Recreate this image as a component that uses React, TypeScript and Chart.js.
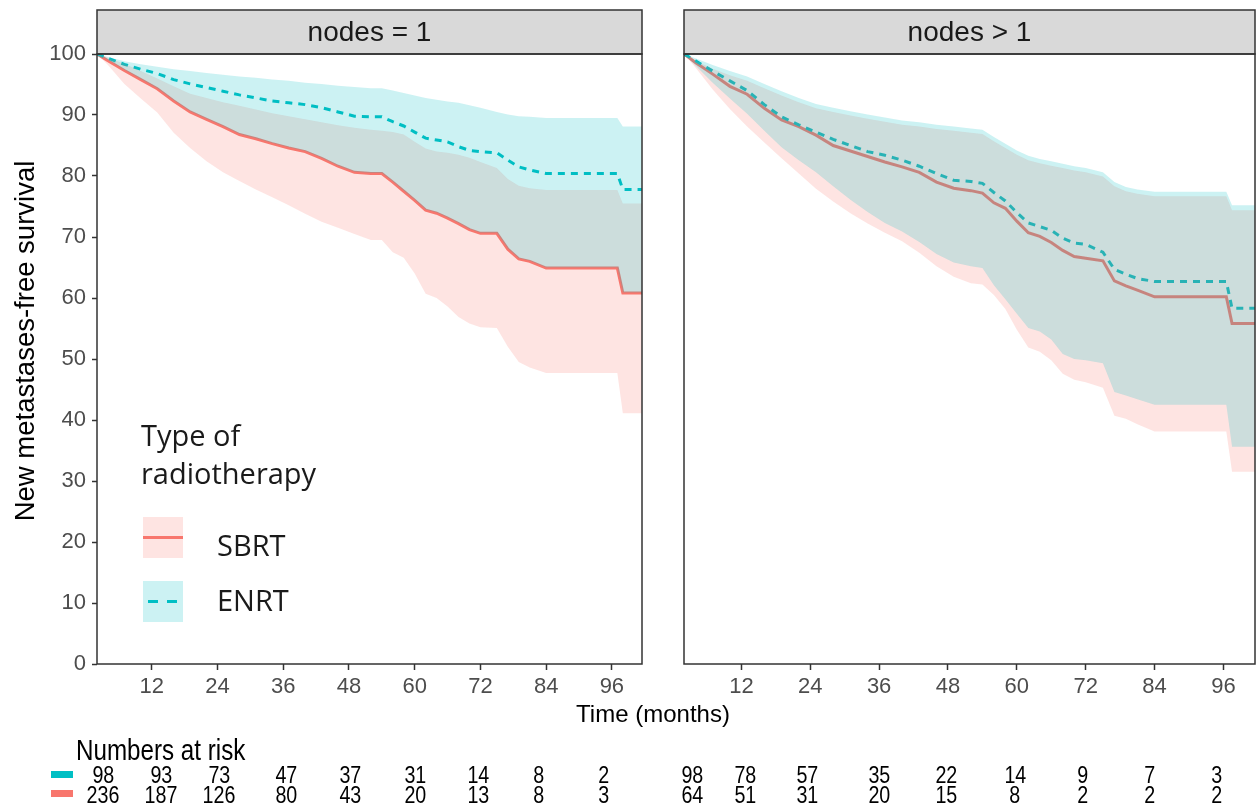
import React, { useEffect, useRef } from "react";
import { Chart, registerables } from "chart.js";

Chart.register(...registerables);

const FONT = '"Liberation Sans", Arial, Helvetica, sans-serif';
const LEGEND_FONT = '"Open Sans", "Liberation Sans", sans-serif';
const SBRT_COLOR = "#F8766D";
const ENRT_COLOR = "#00BFC4";
const SBRT_FILL = "rgba(248,118,109,0.2)";
const ENRT_FILL = "rgba(0,191,196,0.2)";

// ---------- data ----------
const xTicks = [12, 24, 36, 48, 60, 72, 84, 96];
const yTicks = [0, 10, 20, 30, 40, 50, 60, 70, 80, 90, 100];
const panelLabels = ["nodes = 1", "nodes > 1"];
const groupNames = ["SBRT", "ENRT"];

// left panel: nodes = 1
const timesLeft = [2, 4, 7, 10, 13, 16, 19, 22, 25, 28, 31, 34, 37, 40, 43, 46, 49, 52, 54, 56, 58, 60, 62, 64, 66, 68, 70, 72, 75, 77, 79, 81, 84, 97, 98, 101.5];
const sbrtEstLeft = [100, 98.9, 97.3, 95.8, 94.3, 92.3, 90.5, 89.3, 88.1, 86.8, 86.1, 85.3, 84.6, 84.0, 82.9, 81.6, 80.6, 80.4, 80.4, 79.0, 77.5, 76.0, 74.4, 73.9, 73.1, 72.2, 71.2, 70.6, 70.6, 68.0, 66.4, 66.0, 64.9, 64.9, 60.8, 60.8];
const sbrtLowerLeft = [100, 98.2, 95.1, 92.7, 90.4, 87.1, 84.6, 82.4, 80.6, 79.2, 77.8, 76.5, 75.2, 73.8, 72.5, 71.5, 70.5, 69.5, 69.5, 67.5, 66.6, 64.0, 60.7, 60.0, 58.6, 56.9, 55.8, 55.2, 55.1, 52.0, 49.5, 48.6, 47.7, 47.7, 41.1, 41.1];
const sbrtUpperLeft = [100, 99.4, 98.4, 97.2, 96.0, 94.7, 93.5, 92.8, 92.1, 91.5, 90.9, 90.3, 89.8, 89.3, 88.8, 88.3, 87.9, 87.6, 87.4, 87.2, 86.8, 85.6, 84.5, 84.0, 83.8, 83.5, 83.0, 82.3, 81.3, 79.5, 78.4, 78.0, 77.7, 77.7, 75.5, 75.5];
const enrtEstLeft = [100, 99.3, 98.3, 97.5, 96.8, 95.8, 95.1, 94.5, 93.9, 93.3, 92.8, 92.3, 92.0, 91.7, 91.2, 90.5, 89.8, 89.7, 89.7, 88.9, 88.2, 87.2, 86.2, 85.9, 85.6, 84.8, 84.2, 84.0, 83.8, 82.6, 81.5, 81.0, 80.4, 80.4, 77.8, 77.8];
const enrtUpperLeft = [100, 99.5, 98.8, 98.3, 97.9, 97.5, 97.2, 96.9, 96.6, 96.3, 96.1, 95.8, 95.6, 95.3, 95.1, 94.8, 94.6, 94.4, 94.4, 94.0, 93.6, 93.2, 92.8, 92.5, 92.2, 92.0, 91.6, 91.2, 90.5, 90.1, 89.8, 89.7, 89.5, 89.5, 88.1, 88.1];
const enrtLowerLeft = [100, 99.0, 97.4, 95.9, 94.4, 92.4, 90.6, 89.4, 88.2, 86.9, 86.2, 85.4, 84.7, 84.1, 83.0, 81.7, 80.7, 80.5, 80.5, 79.1, 77.6, 76.1, 74.5, 74.0, 73.2, 72.3, 71.3, 70.7, 70.7, 68.1, 66.5, 66.1, 65.0, 65.0, 60.9, 60.9];

// right panel: nodes > 1
const timesRight = [2, 4, 7, 10, 13, 16, 19, 22, 25, 28, 31, 34, 37, 40, 43, 46, 49, 52, 54, 56, 58, 60, 62, 64, 66, 68, 70, 72, 75, 77, 79, 81, 84, 96.5, 97.5, 101.5];
const sbrtEstRight = [100, 98.6, 96.7, 94.7, 93.4, 91.1, 89.2, 88.1, 86.7, 85.0, 84.1, 83.2, 82.3, 81.5, 80.6, 79.0, 78.0, 77.6, 77.2, 75.6, 74.7, 72.6, 70.7, 70.1, 69.1, 67.8, 66.8, 66.5, 66.1, 62.8, 62.0, 61.3, 60.2, 60.2, 55.8, 55.8];
const sbrtLowerRight = [100, 97.8, 94.2, 91.0, 88.1, 85.5, 82.9, 80.4, 77.9, 75.8, 73.9, 72.2, 70.7, 69.3, 67.4, 65.2, 63.5, 62.4, 62.2, 60.5, 58.2, 54.8, 51.9, 51.2, 49.8, 47.6, 46.6, 46.2, 45.3, 40.7, 40.2, 39.3, 38.1, 38.1, 31.5, 31.5];
const sbrtUpperRight = [100, 98.9, 97.6, 96.5, 95.6, 94.4, 93.2, 92.1, 91.1, 90.5, 89.9, 89.4, 88.9, 88.4, 88.1, 87.7, 87.4, 87.1, 86.9, 85.7, 84.6, 83.5, 82.6, 82.1, 81.7, 81.3, 80.9, 80.6, 79.9, 78.3, 77.5, 77.1, 76.7, 76.7, 74.4, 74.4];
const enrtEstRight = [100, 98.9, 97.2, 95.6, 94.0, 91.7, 89.7, 88.4, 87.2, 86.0, 85.0, 84.0, 83.4, 82.6, 81.6, 80.4, 79.3, 79.1, 78.8, 77.3, 75.9, 74.0, 72.3, 71.7, 71.1, 69.8, 69.0, 68.8, 67.5, 64.7, 63.9, 63.2, 62.7, 62.7, 58.3, 58.3];
const enrtUpperRight = [100, 99.3, 98.2, 97.2, 96.3, 95.1, 93.9, 92.8, 91.8, 91.2, 90.6, 90.1, 89.6, 89.1, 88.8, 88.4, 88.1, 87.8, 87.6, 86.4, 85.3, 84.2, 83.3, 82.8, 82.4, 82.0, 81.6, 81.3, 80.6, 79.0, 78.2, 77.8, 77.4, 77.4, 75.2, 75.2];
const enrtLowerRight = [100, 98.1, 95.3, 92.7, 90.2, 87.4, 84.7, 82.6, 80.6, 78.3, 76.1, 74.1, 72.3, 70.9, 69.2, 67.2, 65.8, 65.2, 64.9, 62.1, 59.8, 57.4, 55.1, 54.5, 53.2, 50.8, 50.0, 49.8, 49.3, 44.6, 44.0, 43.4, 42.5, 42.5, 35.6, 35.6];

// numbers at risk
const riskEnrtLeft = [98, 93, 73, 47, 37, 31, 14, 8, 2];
const riskSbrtLeft = [236, 187, 126, 80, 43, 20, 13, 8, 3];
const riskEnrtRight = [98, 78, 57, 35, 22, 14, 9, 7, 3];
const riskSbrtRight = [64, 51, 31, 20, 15, 8, 2, 2, 2];

// ---------- helpers ----------
function xy(t: number[], v: number[]) {
  return t.map((x, i) => ({ x, y: v[i] }));
}

function buildDatasets(t: number[], s: any) {
  const band = { borderWidth: 0, borderColor: "transparent", pointRadius: 0, tension: 0 };
  return [
    { ...band, label: "ENRT upper", data: xy(t, s.enU), fill: "+1", backgroundColor: ENRT_FILL, order: 0 },
    { ...band, label: "ENRT lower", data: xy(t, s.enL), fill: false, order: 0 },
    { ...band, label: "SBRT upper", data: xy(t, s.sbU), fill: "+1", backgroundColor: SBRT_FILL, order: 1 },
    { ...band, label: "SBRT lower", data: xy(t, s.sbL), fill: false, order: 1 },
    { label: groupNames[1], data: xy(t, s.enE), borderColor: ENRT_COLOR, borderWidth: 3, borderDash: [7, 6], pointRadius: 0, fill: false, tension: 0, order: 2 },
    { label: groupNames[0], data: xy(t, s.sbE), borderColor: SBRT_COLOR, borderWidth: 3, pointRadius: 0, fill: false, tension: 0, order: 3 },
  ];
}

const framePlugin = {
  id: "panelFrame",
  afterDraw(chart: any, _args: any, opts: any) {
    const { ctx, chartArea: a } = chart;
    const stripTop = 10;
    ctx.save();
    ctx.fillStyle = "#d9d9d9";
    ctx.fillRect(a.left, stripTop, a.right - a.left, a.top - stripTop);
    ctx.strokeStyle = "#333333";
    ctx.lineWidth = 1.5;
    ctx.strokeRect(a.left, stripTop, a.right - a.left, a.top - stripTop);
    ctx.strokeRect(a.left, a.top, a.right - a.left, a.bottom - a.top);
    ctx.fillStyle = "#1a1a1a";
    ctx.font = `28px ${FONT}`;
    ctx.textAlign = "center";
    ctx.textBaseline = "middle";
    ctx.fillText(opts.label || "", (a.left + a.right) / 2, (stripTop + a.top) / 2 + 1);
    ctx.restore();
  },
};

function makeConfig(t: number[], s: any, label: string, showY: boolean, padding: any): any {
  return {
    type: "line",
    data: { datasets: buildDatasets(t, s) },
    plugins: [framePlugin],
    options: {
      animation: false,
      responsive: false,
      events: [],
      layout: { padding },
      plugins: {
        legend: { display: false },
        tooltip: { enabled: false },
        panelFrame: { label },
      },
      scales: {
        x: {
          type: "linear",
          min: 2,
          max: 101.5,
          afterBuildTicks: (sc: any) => {
            sc.ticks = xTicks.map((v) => ({ value: v }));
          },
          afterFit: (sc: any) => {
            sc.height = 76;
          },
          ticks: { color: "#4d4d4d", font: { size: 22, family: FONT }, padding: 4, maxRotation: 0, autoSkip: false },
          grid: { drawOnChartArea: false, drawTicks: true, tickLength: 6, tickColor: "#333333", tickWidth: 1.5 },
          border: { display: false },
        },
        y: {
          type: "linear",
          display: showY,
          min: 0,
          max: 100,
          afterBuildTicks: (sc: any) => {
            sc.ticks = yTicks.map((v) => ({ value: v }));
          },
          afterFit: (sc: any) => {
            sc.width = showY ? 97 : 0;
          },
          ticks: { color: "#4d4d4d", font: { size: 22, family: FONT }, padding: 6 },
          grid: { drawOnChartArea: false, drawTicks: true, tickLength: 5, tickColor: "#333333", tickWidth: 1.5 },
          border: { display: false },
          title: { display: false },
        },
      },
    },
  };
}

export default function App() {
  const leftRef = useRef<HTMLCanvasElement>(null);
  const rightRef = useRef<HTMLCanvasElement>(null);

  useEffect(() => {
    const left = new Chart(
      leftRef.current as HTMLCanvasElement,
      makeConfig(
        timesLeft,
        { sbE: sbrtEstLeft, sbL: sbrtLowerLeft, sbU: sbrtUpperLeft, enE: enrtEstLeft, enU: enrtUpperLeft, enL: enrtLowerLeft },
        panelLabels[0],
        true,
        { left: 0, right: 10, top: 54, bottom: 0 }
      )
    );
    const right = new Chart(
      rightRef.current as HTMLCanvasElement,
      makeConfig(
        timesRight,
        { sbE: sbrtEstRight, sbL: sbrtLowerRight, sbU: sbrtUpperRight, enE: enrtEstRight, enU: enrtUpperRight, enL: enrtLowerRight },
        panelLabels[1],
        false,
        { left: 32, right: 4, top: 54, bottom: 0 }
      )
    );
    return () => {
      left.destroy();
      right.destroy();
    };
  }, []);

  const leftRiskX = [103, 161, 219, 286, 350, 415, 478, 539, 604];
  const rightRiskX = [692, 745, 807, 879, 946, 1015, 1083, 1150, 1217];

  const riskCell = (v: number, x: number, cy: number, key: string) => (
    <div
      key={key}
      style={{
        position: "absolute",
        left: x - 30,
        top: cy - 12,
        width: 60,
        textAlign: "center",
        fontFamily: FONT,
        fontSize: 24,
        lineHeight: "24px",
        color: "#000",
      }}
    >
      <span style={{ display: "inline-block", transform: "scaleX(0.82)" }}>{v}</span>
    </div>
  );

  const legendText: React.CSSProperties = {
    position: "absolute",
    fontFamily: LEGEND_FONT,
    fontSize: 29,
    lineHeight: "38px",
    color: "#1a1a1a",
    whiteSpace: "nowrap",
  };

  return (
    <div style={{ position: "fixed", left: 0, top: 0, width: 1259, height: 807, background: "#fff", overflow: "hidden" }}>
      <canvas ref={leftRef} width={652} height={740} style={{ position: "absolute", left: 0, top: 0 }} />
      <canvas ref={rightRef} width={607} height={740} style={{ position: "absolute", left: 652, top: 0 }} />

      {/* y-axis title */}
      <div
        style={{
          position: "absolute",
          left: 25 - 250,
          top: 341 - 16,
          width: 500,
          height: 32,
          lineHeight: "32px",
          textAlign: "center",
          fontFamily: FONT,
          fontSize: 27.5,
          color: "#000",
          transform: "rotate(-90deg)",
          transformOrigin: "center center",
          whiteSpace: "nowrap",
        }}
      >
        New metastases-free survival
      </div>

      {/* x-axis title */}
      <div style={{ position: "absolute", left: 453, width: 400, top: 714 - 14, lineHeight: "28px", textAlign: "center", fontFamily: FONT, fontSize: 24, color: "#000" }}>
        Time (months)
      </div>

      {/* legend inside left panel */}
      <div style={{ ...legendText, left: 141, top: 416 }}>
        Type of
        <br />
        radiotherapy
      </div>
      <div style={{ position: "absolute", left: 143, top: 517, width: 40, height: 41, background: SBRT_FILL }}>
        <div style={{ position: "absolute", left: 0, top: 19, width: 40, height: 3, background: SBRT_COLOR }} />
      </div>
      <div style={{ position: "absolute", left: 143, top: 581, width: 40, height: 41, background: ENRT_FILL }}>
        <div style={{ position: "absolute", left: 5, top: 18.5, width: 10, height: 3, background: ENRT_COLOR }} />
        <div style={{ position: "absolute", left: 24, top: 18.5, width: 10, height: 3, background: ENRT_COLOR }} />
      </div>
      <div style={{ ...legendText, left: 217, top: 526 }}>{groupNames[0]}</div>
      <div style={{ ...legendText, left: 217, top: 581 }}>{groupNames[1]}</div>

      {/* numbers at risk */}
      <div style={{ position: "absolute", left: 76, top: 750 - 17, lineHeight: "34px", fontFamily: FONT, fontSize: 29.5, color: "#000", whiteSpace: "nowrap" }}>
        <span style={{ display: "inline-block", transform: "scaleX(0.82)", transformOrigin: "left center" }}>Numbers at risk</span>
      </div>
      <div style={{ position: "absolute", left: 51, top: 771, width: 22, height: 7, background: ENRT_COLOR }} />
      <div style={{ position: "absolute", left: 51, top: 790, width: 22, height: 7, background: SBRT_COLOR }} />
      {riskEnrtLeft.map((v, i) => riskCell(v, leftRiskX[i], 775, `el${i}`))}
      {riskSbrtLeft.map((v, i) => riskCell(v, leftRiskX[i], 795, `sl${i}`))}
      {riskEnrtRight.map((v, i) => riskCell(v, rightRiskX[i], 775, `er${i}`))}
      {riskSbrtRight.map((v, i) => riskCell(v, rightRiskX[i], 795, `sr${i}`))}
    </div>
  );
}
